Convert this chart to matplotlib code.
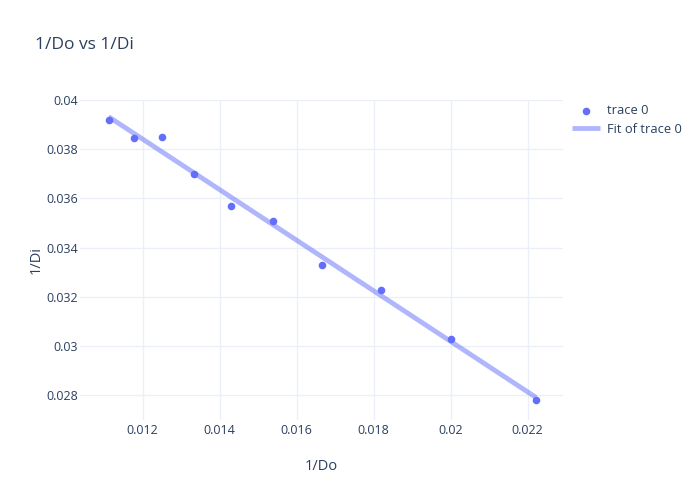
import matplotlib
matplotlib.use("Agg")
import matplotlib.pyplot as plt
import numpy as np
from matplotlib.ticker import FuncFormatter

# данные: обратные величины расстояний
inv_do = [1/90, 1/85, 1/80, 1/75, 1/70, 1/65, 1/60, 1/55, 1/50, 1/45]
inv_di = [0.0392, 0.03847, 0.0385, 0.0370, 0.0357, 0.03509, 0.0333, 0.03228, 0.0303, 0.02781]

x_ticks = [0.012, 0.014, 0.016, 0.018, 0.02, 0.022]
y_ticks = [0.028, 0.03, 0.032, 0.034, 0.036, 0.038, 0.04]

plt.rcParams['font.family'] = ['Open Sans', 'DejaVu Sans']
text_color = '#2a3f5f'
grid_color = '#ebf0f8'

fig = plt.figure(figsize=(7, 5), dpi=100)
ax = fig.add_axes([80/700, 80/500, 483/700, 320/500])

# линейная аппроксимация
k, b = np.polyfit(inv_do, inv_di, 1)
x_fit = np.array([min(inv_do), max(inv_do)])
ax.plot(x_fit, k*x_fit + b, color='#636efa', alpha=0.5, lw=3.5, label='Fit of trace 0',
        solid_capstyle='butt', zorder=2)
ax.scatter(inv_do, inv_di, s=30, color='#636efa', label='trace 0', zorder=3, linewidths=0)

ax.set_xlim(0.01037, 0.02292)
ax.set_ylim(0.02699, 0.03996)
ax.set_xticks(x_ticks)
ax.set_yticks(y_ticks)
fmt = FuncFormatter(lambda v, p: '%g' % v)
ax.xaxis.set_major_formatter(fmt)
ax.yaxis.set_major_formatter(fmt)
ax.grid(True, color=grid_color, lw=1)
ax.set_axisbelow(True)
for s in ax.spines.values():
    s.set_visible(False)
ax.tick_params(length=0, labelsize=9, colors=text_color)
ax.tick_params(axis='y', pad=1.5)
ax.tick_params(axis='x', pad=3)
ax.set_xlabel('1/Do', fontsize=10.5, color=text_color, labelpad=16)
ax.set_ylabel('1/Di', fontsize=10.5, color=text_color, labelpad=2)

fig.text(35/700, 1 - 45/500, '1/Do vs 1/Di', fontsize=12.5, color=text_color, va='center')

handles, labels = ax.get_legend_handles_labels()
leg = fig.legend(handles[::-1], labels[::-1], loc='upper left', bbox_to_anchor=(572/700, 1 - 104/500),
                 frameon=False, fontsize=9.3, labelcolor=text_color, handlelength=2.2,
                 handletextpad=0.5, labelspacing=0.45, borderaxespad=0, borderpad=0)

plt.savefig('out.png', dpi=100)
